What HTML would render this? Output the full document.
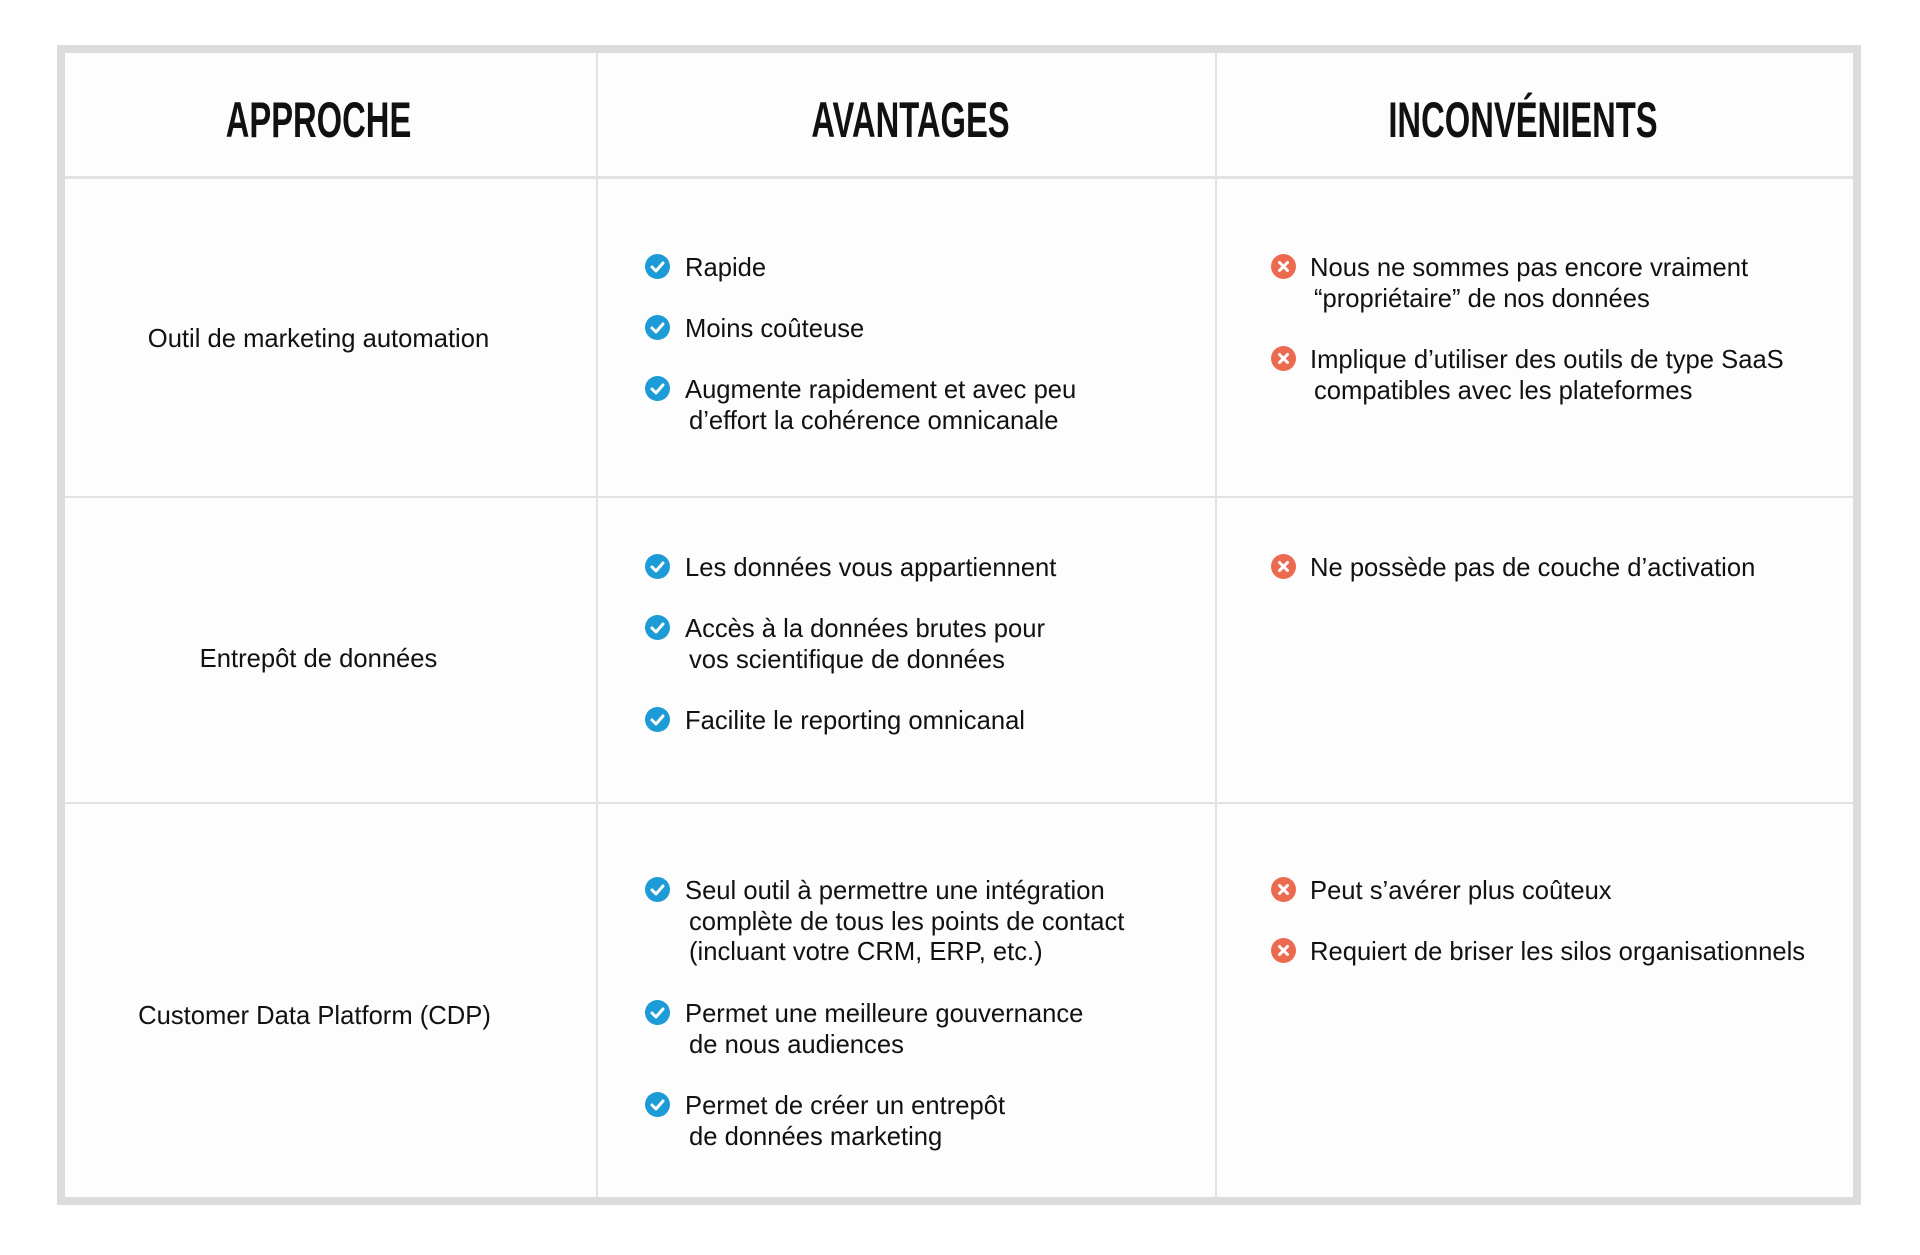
<!DOCTYPE html>
<html><head><meta charset="utf-8"><style>
html,body{margin:0;padding:0;background:#fff;width:1920px;height:1255px;overflow:hidden}
body{position:relative;font-family:"Liberation Sans",Arial,sans-serif;color:#111}
.box{position:absolute;left:57px;top:45px;width:1788px;height:1144px;border:8px solid #dcdcdc;background:#fdfdfd}
.v{position:absolute;top:53px;height:1144px;width:2px;background:#e2e2e2}
.h{position:absolute;left:65px;width:1788px;background:#e2e2e2}
.hd{position:absolute;top:88px;height:64px;line-height:64px;font-family:"Liberation Sans Narrow","Liberation Sans",sans-serif;font-weight:bold;font-size:50px;text-align:center;transform:scaleX(0.655)}
.t{position:absolute;font-size:25.6px;line-height:30.6px;white-space:nowrap;margin-top:1px}
.t span{padding-left:4px}
.c{text-align:center;width:531px;left:53px}
.ic{position:absolute;width:25px;height:25px;border-radius:50%}
.b{background:#1d9bd7}.r{background:#ec6a4f}
.ic svg{position:absolute;left:0;top:0}
</style></head><body>
<div class="box"></div>
<div class="v" style="left:596px"></div>
<div class="v" style="left:1215px"></div>
<div class="h" style="top:176px;height:3px"></div>
<div class="h" style="top:496px;height:2px"></div>
<div class="h" style="top:802px;height:2px"></div>

<div class="hd" style="left:53px;width:531px">APPROCHE</div>
<div class="hd" style="left:602px;width:617px">AVANTAGES</div>
<div class="hd" style="left:1205px;width:636px">INCONVÉNIENTS</div>

<div class="t c" style="top:323px">Outil de marketing automation</div>
<div class="t c" style="top:643px">Entrepôt de données</div>
<div class="t c" style="top:1000px;left:49px">Customer Data Platform (CDP)</div>

<!-- avantages -->
<div class="ic b" style="left:645px;top:254px"><svg width="25" height="25"><path d="M7 13l4 4 7-8" stroke="#fff" stroke-width="3" fill="none" stroke-linecap="round" stroke-linejoin="round"/></svg></div>
<div class="t" style="left:685px;top:252px">Rapide</div>
<div class="ic b" style="left:645px;top:315px"><svg width="25" height="25"><path d="M7 13l4 4 7-8" stroke="#fff" stroke-width="3" fill="none" stroke-linecap="round" stroke-linejoin="round"/></svg></div>
<div class="t" style="left:685px;top:313px">Moins coûteuse</div>
<div class="ic b" style="left:645px;top:376px"><svg width="25" height="25"><path d="M7 13l4 4 7-8" stroke="#fff" stroke-width="3" fill="none" stroke-linecap="round" stroke-linejoin="round"/></svg></div>
<div class="t" style="left:685px;top:374px">Augmente rapidement et avec peu<br><span>d’effort la cohérence omnicanale</span></div>

<div class="ic b" style="left:645px;top:554px"><svg width="25" height="25"><path d="M7 13l4 4 7-8" stroke="#fff" stroke-width="3" fill="none" stroke-linecap="round" stroke-linejoin="round"/></svg></div>
<div class="t" style="left:685px;top:552px">Les données vous appartiennent</div>
<div class="ic b" style="left:645px;top:615px"><svg width="25" height="25"><path d="M7 13l4 4 7-8" stroke="#fff" stroke-width="3" fill="none" stroke-linecap="round" stroke-linejoin="round"/></svg></div>
<div class="t" style="left:685px;top:613px">Accès à la données brutes pour<br><span>vos scientifique de données</span></div>
<div class="ic b" style="left:645px;top:707px"><svg width="25" height="25"><path d="M7 13l4 4 7-8" stroke="#fff" stroke-width="3" fill="none" stroke-linecap="round" stroke-linejoin="round"/></svg></div>
<div class="t" style="left:685px;top:705px">Facilite le reporting omnicanal</div>

<div class="ic b" style="left:645px;top:877px"><svg width="25" height="25"><path d="M7 13l4 4 7-8" stroke="#fff" stroke-width="3" fill="none" stroke-linecap="round" stroke-linejoin="round"/></svg></div>
<div class="t" style="left:685px;top:875px">Seul outil à permettre une intégration<br><span>complète de tous les points de contact</span><br><span>(incluant votre CRM, ERP, etc.)</span></div>
<div class="ic b" style="left:645px;top:1000px"><svg width="25" height="25"><path d="M7 13l4 4 7-8" stroke="#fff" stroke-width="3" fill="none" stroke-linecap="round" stroke-linejoin="round"/></svg></div>
<div class="t" style="left:685px;top:998px">Permet une meilleure gouvernance<br><span>de nous audiences</span></div>
<div class="ic b" style="left:645px;top:1092px"><svg width="25" height="25"><path d="M7 13l4 4 7-8" stroke="#fff" stroke-width="3" fill="none" stroke-linecap="round" stroke-linejoin="round"/></svg></div>
<div class="t" style="left:685px;top:1090px">Permet de créer un entrepôt<br><span>de données marketing</span></div>

<!-- inconvenients -->
<div class="ic r" style="left:1271px;top:254px"><svg width="25" height="25"><path d="M8.5 8.5l8 8M16.5 8.5l-8 8" stroke="#fff" stroke-width="3" stroke-linecap="round"/></svg></div>
<div class="t" style="left:1310px;top:252px">Nous ne sommes pas encore vraiment<br><span>“propriétaire” de nos données</span></div>
<div class="ic r" style="left:1271px;top:346px"><svg width="25" height="25"><path d="M8.5 8.5l8 8M16.5 8.5l-8 8" stroke="#fff" stroke-width="3" stroke-linecap="round"/></svg></div>
<div class="t" style="left:1310px;top:344px">Implique d’utiliser des outils de type SaaS<br><span>compatibles avec les plateformes</span></div>
<div class="ic r" style="left:1271px;top:554px"><svg width="25" height="25"><path d="M8.5 8.5l8 8M16.5 8.5l-8 8" stroke="#fff" stroke-width="3" stroke-linecap="round"/></svg></div>
<div class="t" style="left:1310px;top:552px">Ne possède pas de couche d’activation</div>
<div class="ic r" style="left:1271px;top:877px"><svg width="25" height="25"><path d="M8.5 8.5l8 8M16.5 8.5l-8 8" stroke="#fff" stroke-width="3" stroke-linecap="round"/></svg></div>
<div class="t" style="left:1310px;top:875px">Peut s’avérer plus coûteux</div>
<div class="ic r" style="left:1271px;top:938px"><svg width="25" height="25"><path d="M8.5 8.5l8 8M16.5 8.5l-8 8" stroke="#fff" stroke-width="3" stroke-linecap="round"/></svg></div>
<div class="t" style="left:1310px;top:936px">Requiert de briser les silos organisationnels</div>
</body></html>
